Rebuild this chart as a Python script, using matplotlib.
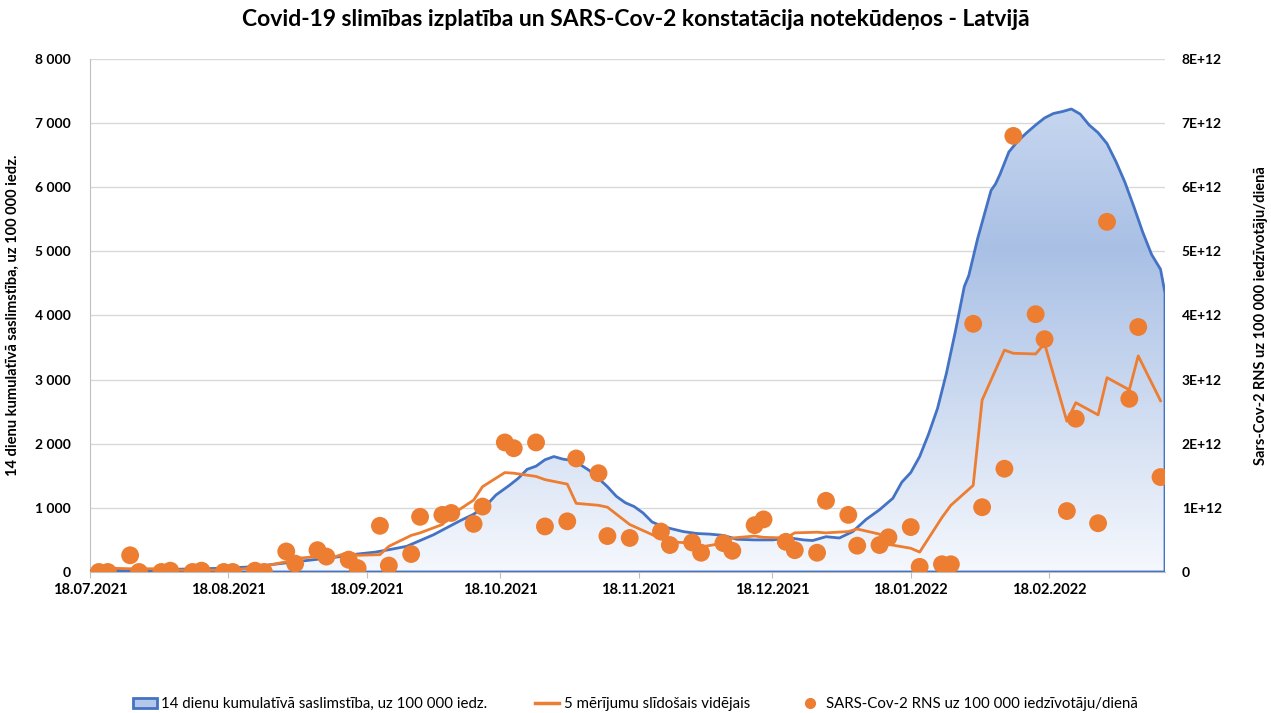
import matplotlib.pyplot as plt
import matplotlib.dates as mdates
import numpy as np
import pandas as pd
from matplotlib.colors import LinearSegmentedColormap
from matplotlib.lines import Line2D
from matplotlib.patches import Patch, PathPatch
from matplotlib.ticker import FuncFormatter, MultipleLocator

plt.rcParams["font.family"] = ["Lato", "DejaVu Sans"]

# 14 dienu kumulatīvā saslimstība (uz 100 000 iedz.)
case_dates = [
    "2021-07-18", "2021-07-25", "2021-08-01", "2021-08-08", "2021-08-15", "2021-08-22",
    "2021-08-27", "2021-09-01", "2021-09-06", "2021-09-11", "2021-09-16", "2021-09-20",
    "2021-09-24", "2021-09-27", "2021-09-30", "2021-10-03", "2021-10-06", "2021-10-09",
    "2021-10-12", "2021-10-15", "2021-10-17", "2021-10-20", "2021-10-22", "2021-10-24",
    "2021-10-26", "2021-10-28", "2021-10-30", "2021-11-01", "2021-11-03", "2021-11-05",
    "2021-11-07", "2021-11-09", "2021-11-11", "2021-11-13", "2021-11-15", "2021-11-17",
    "2021-11-19", "2021-11-21", "2021-11-23", "2021-11-25", "2021-11-28", "2021-12-01",
    "2021-12-04", "2021-12-07", "2021-12-10", "2021-12-14", "2021-12-18", "2021-12-22",
    "2021-12-25", "2021-12-27", "2021-12-30", "2022-01-02", "2022-01-05", "2022-01-08",
    "2022-01-11", "2022-01-14", "2022-01-16", "2022-01-18", "2022-01-20", "2022-01-22",
    "2022-01-24", "2022-01-26", "2022-01-28", "2022-01-30", "2022-01-31", "2022-02-02",
    "2022-02-04", "2022-02-05", "2022-02-06", "2022-02-07", "2022-02-09", "2022-02-11",
    "2022-02-13", "2022-02-15", "2022-02-17", "2022-02-19", "2022-02-21", "2022-02-23",
    "2022-02-25", "2022-02-27", "2022-03-01", "2022-03-03", "2022-03-05", "2022-03-07",
    "2022-03-09", "2022-03-11", "2022-03-13", "2022-03-15", "2022-03-16",
]
case_values = [
    20, 25, 35, 45, 55, 75,
    110, 150, 190, 230, 280, 310,
    360, 400, 490, 580, 690, 800,
    900, 1050, 1200, 1350, 1460, 1600,
    1650, 1750, 1800, 1760, 1740, 1670,
    1580, 1460, 1330, 1180, 1080, 1020,
    920, 780, 720, 680, 630, 600,
    590, 570, 510, 500, 500, 530,
    500, 490, 550, 530, 630, 820,
    970, 1150, 1400, 1550, 1800, 2150,
    2550, 3100, 3750, 4450, 4620, 5200,
    5700, 5950, 6050, 6200, 6550, 6720,
    6850, 6970, 7080, 7150, 7180, 7220,
    7140, 6970, 6850, 6680, 6400, 6080,
    5700, 5300, 4950, 4720, 4350,
]

# SARS-Cov-2 RNS mērījumi notekūdeņos (x 1E+12)
rns_dates = [
    "2021-07-20", "2021-07-22", "2021-07-27", "2021-07-29",
    "2021-08-03", "2021-08-05", "2021-08-10", "2021-08-12", "2021-08-17", "2021-08-19",
    "2021-08-24", "2021-08-26", "2021-08-31",
    "2021-09-02", "2021-09-07", "2021-09-09", "2021-09-14", "2021-09-16", "2021-09-21",
    "2021-09-23", "2021-09-28", "2021-09-30",
    "2021-10-05", "2021-10-07", "2021-10-12", "2021-10-14", "2021-10-19", "2021-10-21",
    "2021-10-26", "2021-10-28",
    "2021-11-02", "2021-11-04", "2021-11-09", "2021-11-11", "2021-11-16", "2021-11-23",
    "2021-11-25", "2021-11-30",
    "2021-12-02", "2021-12-07", "2021-12-09", "2021-12-14", "2021-12-16", "2021-12-21",
    "2021-12-23", "2021-12-28", "2021-12-30",
    "2022-01-04", "2022-01-06", "2022-01-11", "2022-01-13", "2022-01-18", "2022-01-20",
    "2022-01-25", "2022-01-27",
    "2022-02-01", "2022-02-03", "2022-02-08", "2022-02-10", "2022-02-15", "2022-02-17",
    "2022-02-22", "2022-02-24",
    "2022-03-01", "2022-03-03", "2022-03-08", "2022-03-10", "2022-03-15",
]
rns_values = [
    0.00, 0.00, 0.26, 0.00,
    0.00, 0.02, 0.00, 0.02, 0.00, 0.00,
    0.02, 0.00, 0.32,
    0.13, 0.34, 0.24, 0.19, 0.06, 0.72,
    0.10, 0.28, 0.86,
    0.89, 0.92, 0.75, 1.02, 2.02, 1.93,
    2.02, 0.71,
    0.79, 1.77, 1.54, 0.56, 0.53, 0.63,
    0.42, 0.46,
    0.30, 0.45, 0.33, 0.73, 0.82, 0.47,
    0.34, 0.30, 1.11,
    0.89, 0.41, 0.42, 0.54, 0.70, 0.08,
    0.12, 0.12,
    3.87, 1.01, 1.61, 6.80, 4.02, 3.63,
    0.95, 2.39,
    0.76, 5.46, 2.70, 3.82, 1.48,
]
# 5 mērījumu slīdošais vidējais (x 1E+12)
rns_avg = [
    0.07, 0.06, 0.05, 0.05,
    0.05, 0.03, 0.03, 0.03, 0.03, 0.03,
    0.07, 0.09, 0.16,
    0.21, 0.24, 0.19, 0.31, 0.26, 0.27,
    0.40, 0.57, 0.61,
    0.74, 0.89, 1.12, 1.33, 1.55, 1.54,
    1.49, 1.44,
    1.37, 1.07, 1.04, 1.01, 0.74, 0.52,
    0.47, 0.45,
    0.39, 0.45, 0.53, 0.56, 0.54, 0.53,
    0.61, 0.62, 0.61,
    0.63, 0.67, 0.59, 0.43, 0.37, 0.31,
    0.85, 1.04,
    1.35, 2.68, 3.46, 3.41, 3.40, 3.56,
    2.35, 2.64,
    2.45, 3.03, 2.84, 3.37, 2.67,
]

BLUE = "#4472C4"
ORANGE = "#ED7D31"

case_dates = pd.to_datetime(case_dates)
rns_dates = pd.to_datetime(rns_dates)
rns_values = np.array(rns_values) * 1e12
rns_avg = np.array(rns_avg) * 1e12

fig = plt.figure(figsize=(12.71, 7.13), dpi=100)
ax = fig.add_axes([0.0708, 0.1978, 0.8458, 0.7195])
ax2 = ax.twinx()

# laukums ar gradientu
poly = ax.fill_between(case_dates, case_values, 0, facecolor="none",
                       edgecolor=BLUE, linewidth=2.0, joinstyle="round", zorder=3)
cmap = LinearSegmentedColormap.from_list(
    "grad", [(0.0, "#f5f8fd"), (0.7, "#a9c0e5"), (1.0, "#c6d6ef")])
x0 = mdates.date2num(case_dates[0])
x1 = mdates.date2num(case_dates[-1])
grad = np.linspace(0, 1, 256).reshape(-1, 1)
img = ax.imshow(grad, extent=[x0, x1, 0, max(case_values)], origin="lower",
                aspect="auto", cmap=cmap, zorder=2)
clip = PathPatch(poly.get_paths()[0], transform=ax.transData, facecolor="none",
                 edgecolor="none")
ax.add_patch(clip)
img.set_clip_path(clip)

ax2.plot(rns_dates, rns_avg, color=ORANGE, linewidth=2.0, solid_joinstyle="round",
         zorder=3)
ax2.scatter(rns_dates, rns_values, s=165, color=ORANGE, edgecolors="none", zorder=4)

ax.set_xlim(case_dates[0], case_dates[-1])
ax.set_ylim(0, 8000)
ax2.set_ylim(0, 8e12)

ax.yaxis.set_major_locator(MultipleLocator(1000))
ax.yaxis.set_major_formatter(
    FuncFormatter(lambda v, _: f"{int(v):,}".replace(",", " ")))
ax2.yaxis.set_major_locator(MultipleLocator(1e12))
ax2.yaxis.set_major_formatter(
    FuncFormatter(lambda v, _: "0" if v == 0 else f"{v / 1e12:.0f}E+12"))

ax.xaxis.set_major_locator(mdates.DayLocator(bymonthday=18))
ax.xaxis.set_major_formatter(mdates.DateFormatter("%d.%m.%Y"))

ax.set_axisbelow(True)
ax.grid(axis="y", color="#d9d9d9", linewidth=1.0)
for a in (ax, ax2):
    for side in ("top", "right", "left", "bottom"):
        a.spines[side].set_visible(False)
ax.spines["left"].set_visible(True)
ax.spines["left"].set_color("#bfbfbf")
ax.spines["bottom"].set_visible(True)
ax.spines["bottom"].set_color("#bfbfbf")

ax.tick_params(axis="y", length=0, pad=14, labelsize=10)
ax2.tick_params(axis="y", length=0, pad=12, labelsize=10)
ax.tick_params(axis="x", length=4, color="#bfbfbf", pad=4, labelsize=10.5)
for lab in ax.get_xticklabels() + ax.get_yticklabels() + ax2.get_yticklabels():
    lab.set_fontweight("bold")

ax.set_ylabel("14 dienu kumulatīvā saslimstība, uz 100 000 iedz.",
              fontsize=10.5, fontweight="bold")
ax.yaxis.set_label_coords(-0.065, 0.5)
ax2.set_ylabel("Sars-Cov-2 RNS uz 100 000 iedzīvotāju/dienā",
               fontsize=10.5, fontweight="bold")
ax2.yaxis.set_label_coords(1.083, 0.5)

fig.text(0.5, 0.972, "Covid-19 slimības izplatība un SARS-Cov-2 konstatācija notekūdeņos - Latvijā",
         ha="center", va="center", fontsize=16.5, fontweight="bold")

handles = [
    Patch(facecolor="#b4c8e9", edgecolor=BLUE, linewidth=2),
    Line2D([], [], color=ORANGE, linewidth=2.5),
    Line2D([], [], color=ORANGE, marker="o", linestyle="none", markersize=7),
]
labels = [
    "14 dienu kumulatīvā saslimstība, uz 100 000 iedz.",
    "5 mērījumu slīdošais vidējais",
    "SARS-Cov-2 RNS uz 100 000 iedzīvotāju/dienā",
]
fig.legend(handles, labels, loc="center", bbox_to_anchor=(0.5, 1 - 704 / 713),
           ncol=3, frameon=False, columnspacing=3.2, handlelength=1.6,
           handletextpad=0.3, fontsize=10.8)

fig.savefig("out.png", dpi=100)
